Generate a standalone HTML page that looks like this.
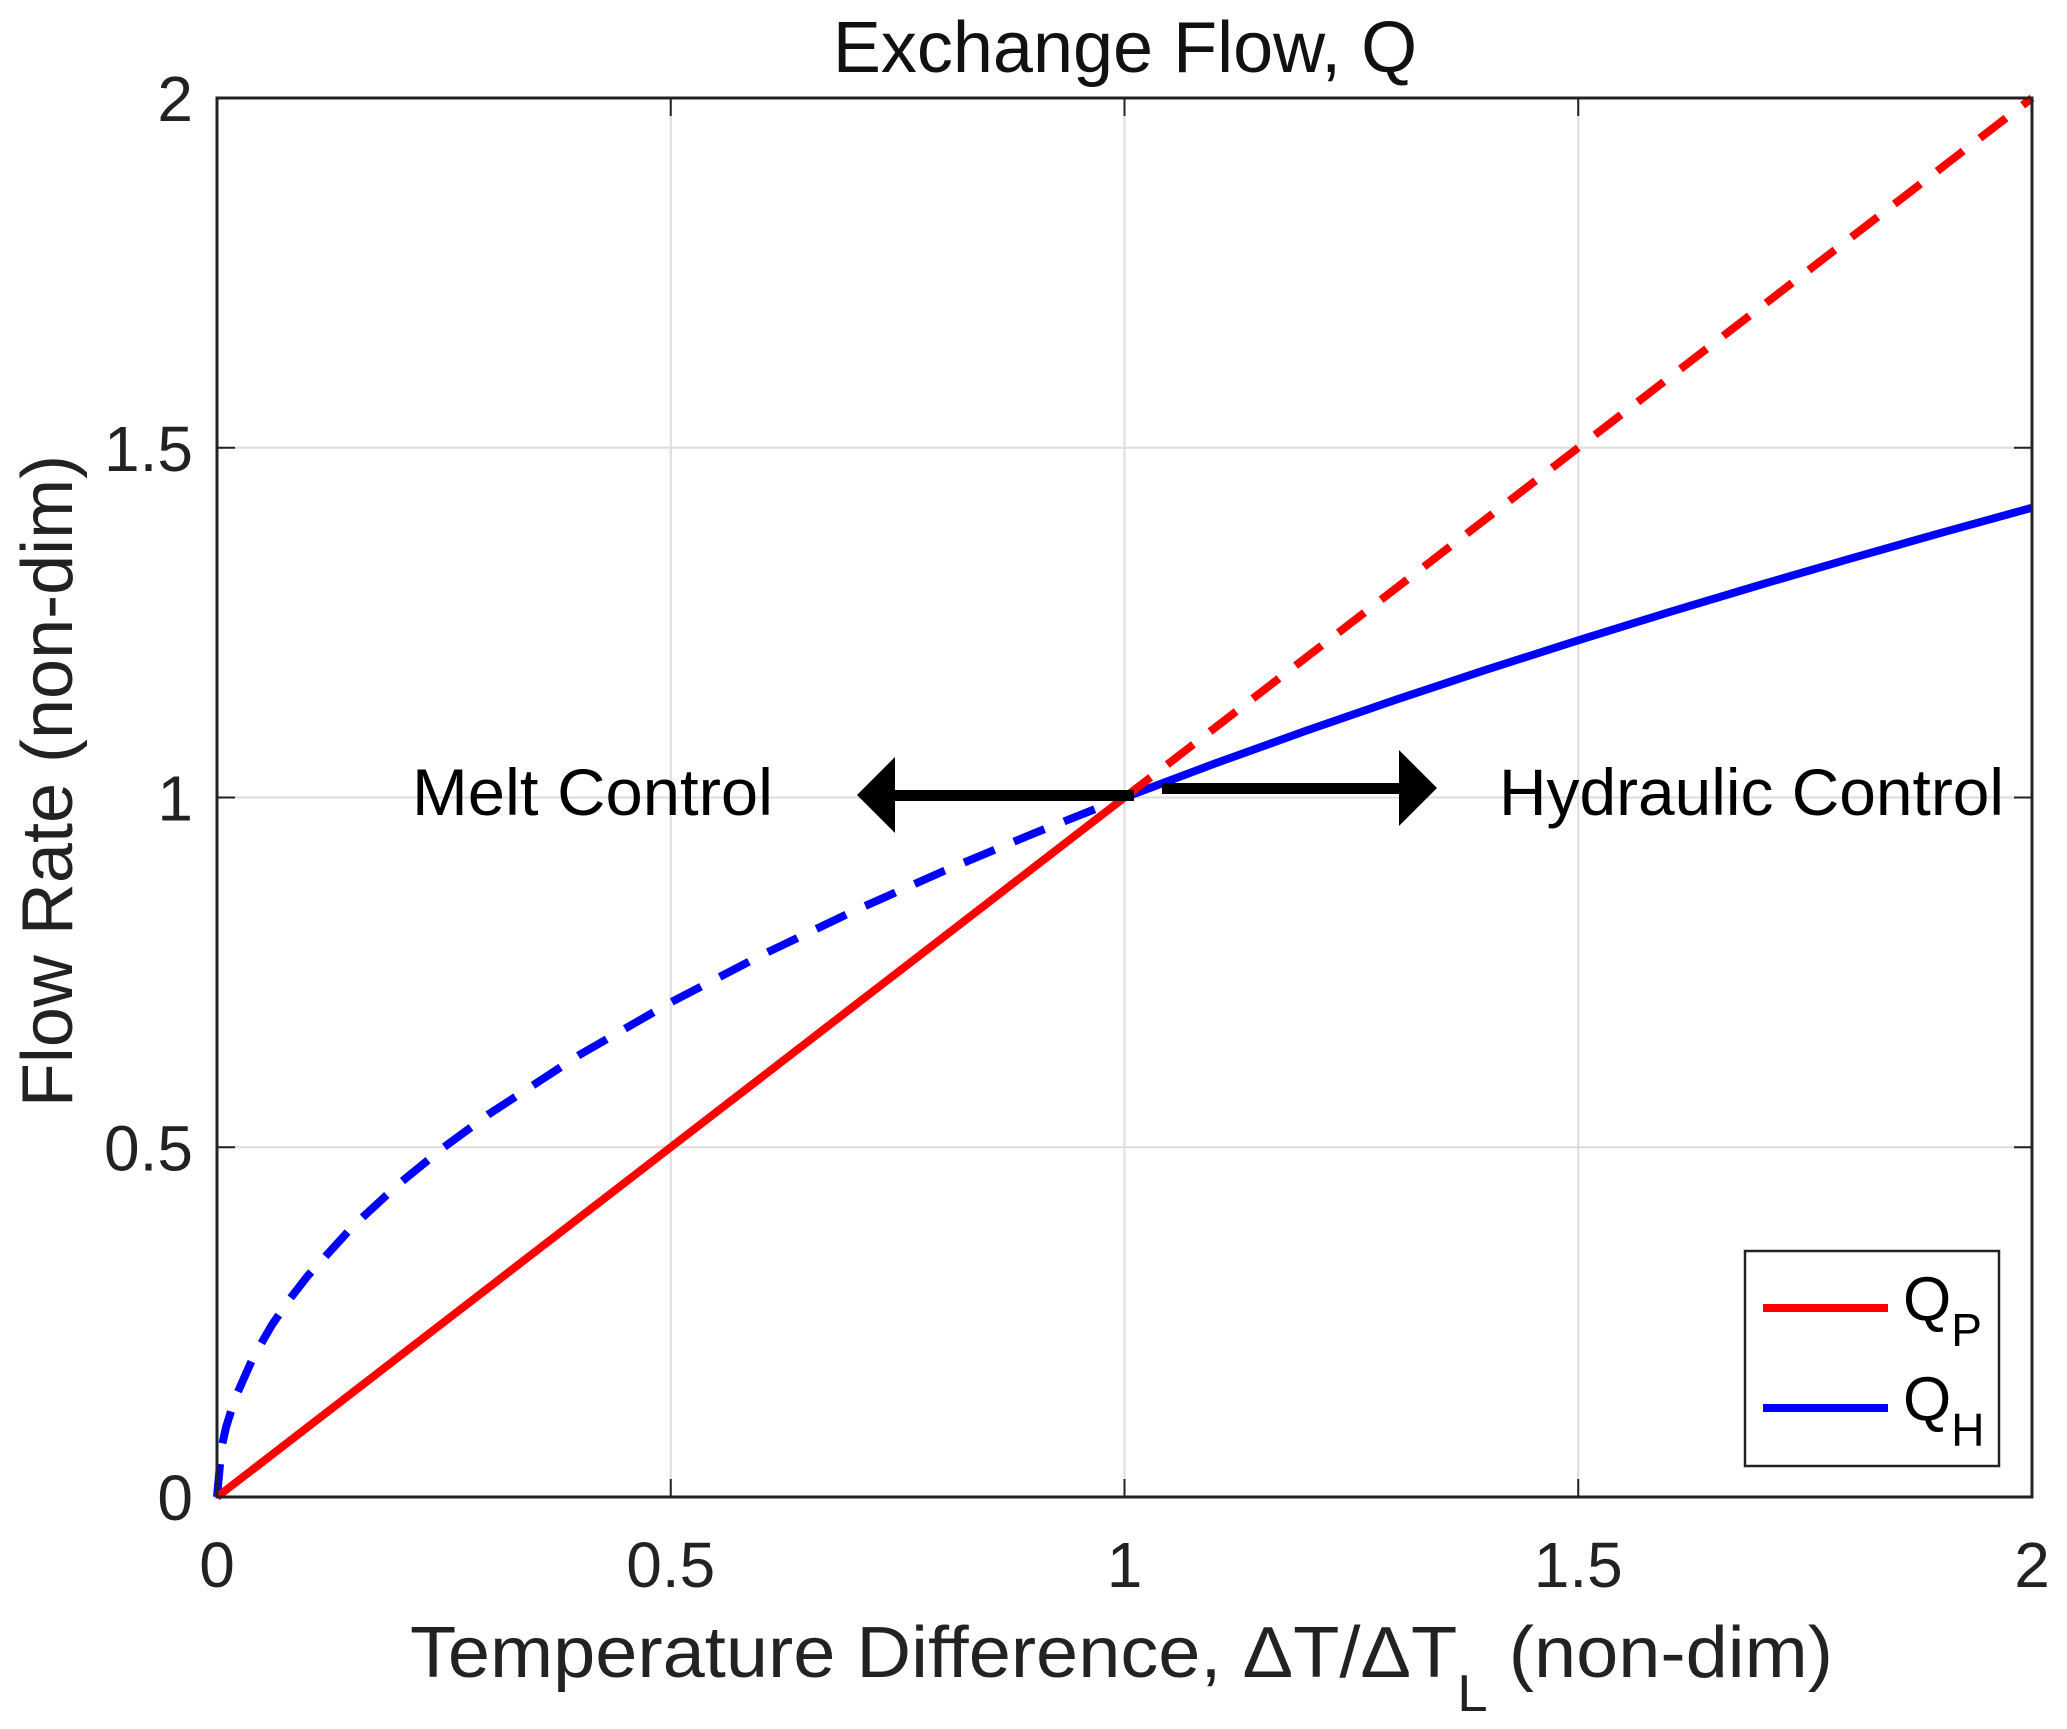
<!DOCTYPE html>
<html><head><meta charset="utf-8"><style>
html,body{margin:0;padding:0;background:#fff;}
svg{display:block;font-family:"Liberation Sans",Arial,sans-serif;}
</style></head><body>
<svg id="chart" width="2067" height="1729" viewBox="0 0 2067 1729" xmlns="http://www.w3.org/2000/svg">
<rect x="0" y="0" width="2067" height="1729" fill="#fff"/>
<g id="grid"></g>
<g id="lines"></g>
<rect x="217" y="98" width="1815" height="1399" fill="none" stroke="#222" stroke-width="3"/>
<g id="ticks"></g>
<text x="1125" y="72" text-anchor="middle" font-size="72" fill="#111">Exchange Flow, Q</text>
<text x="410" y="1677" font-size="72" fill="#222" textLength="1423" lengthAdjust="spacingAndGlyphs">Temperature Difference, ΔT/ΔT<tspan font-size="52" dy="34">L</tspan><tspan dy="-34"> (non-dim)</tspan></text>
<text transform="translate(72,781) rotate(-90)" text-anchor="middle" font-size="72" fill="#222">Flow Rate (non-dim)</text>
<g>
<text x="412" y="815" font-size="66" fill="#000" textLength="361" lengthAdjust="spacingAndGlyphs">Melt Control</text>
<rect x="890" y="790" width="244" height="11" fill="#000"/>
<polygon points="857,795 895,757 895,833" fill="#000"/>
</g>
<g>
<text x="1499" y="815" font-size="66" fill="#000" textLength="505" lengthAdjust="spacingAndGlyphs">Hydraulic Control</text>
<rect x="1162" y="783" width="240" height="11" fill="#000"/>
<polygon points="1437,788 1399,750 1399,826" fill="#000"/>
</g>
<g>
<rect x="1745" y="1251" width="254" height="215" fill="#fff" stroke="#222" stroke-width="2.5"/>
<line x1="1763" y1="1308" x2="1888" y2="1308" stroke="#ff0000" stroke-width="8"/>
<text x="1903" y="1320" font-size="62" fill="#000">Q<tspan font-size="46" dy="26">P</tspan></text>
<line x1="1763" y1="1408" x2="1888" y2="1408" stroke="#0000ff" stroke-width="8"/>
<text x="1903" y="1420" font-size="62" fill="#000">Q<tspan font-size="46" dy="26">H</tspan></text>
</g>
</svg>
<script>
const xTicks = [0, 0.5, 1, 1.5, 2];
const yTicks = [0, 0.5, 1, 1.5, 2];
const xTickLabels = ["0", "0.5", "1", "1.5", "2"];
const yTickLabels = ["0", "0.5", "1", "1.5", "2"];
const xValues = [0, 0.005, 0.01, 0.02, 0.04, 0.06, 0.08, 0.1, 0.15, 0.2, 0.25, 0.3, 0.4, 0.5, 0.6, 0.7, 0.8, 0.9, 1, 1.1, 1.2, 1.3, 1.4, 1.5, 1.6, 1.7, 1.8, 1.9, 2];
const qpValues = [0, 0.005, 0.01, 0.02, 0.04, 0.06, 0.08, 0.1, 0.15, 0.2, 0.25, 0.3, 0.4, 0.5, 0.6, 0.7, 0.8, 0.9, 1, 1.1, 1.2, 1.3, 1.4, 1.5, 1.6, 1.7, 1.8, 1.9, 2];
const qhValues = [0, 0.0707, 0.1, 0.1414, 0.2, 0.2449, 0.2828, 0.3162, 0.3873, 0.4472, 0.5, 0.5477, 0.6325, 0.7071, 0.7746, 0.8367, 0.8944, 0.9487, 1, 1.0488, 1.0954, 1.1402, 1.1832, 1.2247, 1.2649, 1.3038, 1.3416, 1.3784, 1.4142];
const switchX = 1;

const NS = "http://www.w3.org/2000/svg";
const X0 = 217, X1 = 2032, Y0 = 1497, Y1 = 98;
function sx(v){ return X0 + (v - 0) / 2 * (X1 - X0); }
function sy(v){ return Y0 - (v - 0) / 2 * (Y0 - Y1); }
function mk(tag, attrs){ const e = document.createElementNS(NS, tag); for (const k in attrs) e.setAttribute(k, attrs[k]); return e; }
const grid = document.getElementById('grid');
const ticks = document.getElementById('ticks');
const lines = document.getElementById('lines');

xTicks.forEach((t, i) => {
  if (i > 0 && i < xTicks.length - 1) {
    const g = mk('line', {x1: sx(t), x2: sx(t), y1: Y1, y2: Y0, stroke: '#dcdcdc', 'stroke-width': 2});
    
    
    grid.appendChild(g);
  }
  const tk1 = mk('line', {x1: sx(t), x2: sx(t), y1: Y0, y2: Y0 - 18, stroke: '#222', 'stroke-width': 2});
  
  
  ticks.appendChild(tk1);
  const tk2 = mk('line', {x1: sx(t), x2: sx(t), y1: Y1, y2: Y1 + 18, stroke: '#222', 'stroke-width': 2});
  
  
  ticks.appendChild(tk2);
  const lb = mk('text', {x: sx(t), y: 1587, 'text-anchor': 'middle', 'font-size': 64, fill: '#222'});
  lb.textContent = xTickLabels[i];
  
  
  ticks.appendChild(lb);
});
yTicks.forEach((t, i) => {
  if (i > 0 && i < yTicks.length - 1) {
    const g = mk('line', {x1: X0, x2: X1, y1: sy(t), y2: sy(t), stroke: '#dcdcdc', 'stroke-width': 2});
    
    
    grid.appendChild(g);
  }
  const tk1 = mk('line', {x1: X0, x2: X0 + 18, y1: sy(t), y2: sy(t), stroke: '#222', 'stroke-width': 2});
  
  
  ticks.appendChild(tk1);
  const tk2 = mk('line', {x1: X1, x2: X1 - 18, y1: sy(t), y2: sy(t), stroke: '#222', 'stroke-width': 2});
  
  
  ticks.appendChild(tk2);
  const lb = mk('text', {x: 193, y: sy(t) + 23, 'text-anchor': 'end', 'font-size': 64, fill: '#222'});
  lb.textContent = yTickLabels[i];
  
  
  ticks.appendChild(lb);
});

function pathFor(vals, lo, hi){
  let d = '';
  xValues.forEach((x, i) => {
    if (x < lo || x > hi) return;
    d += (d ? 'L' : 'M') + sx(x).toFixed(2) + ',' + sy(vals[i]).toFixed(2);
  });
  return d;
}
function addLine(vals, lo, hi, color, dashed, name){
  const p = mk('path', {d: pathFor(vals, lo, hi), fill: 'none', stroke: color, 'stroke-width': 8, 'stroke-linejoin': 'round'});
  if (dashed) p.setAttribute('stroke-dasharray', '33 21');
  
  
  lines.appendChild(p);
}
addLine(qhValues, 0, switchX, '#0000ff', true, 'qh-line-dashed');
addLine(qhValues, switchX, 2, '#0000ff', false, 'qh-line-solid');
addLine(qpValues, switchX, 2, '#ff0000', true, 'qp-line-dashed');
addLine(qpValues, 0, switchX, '#ff0000', false, 'qp-line-solid');
</script>
</body></html>
